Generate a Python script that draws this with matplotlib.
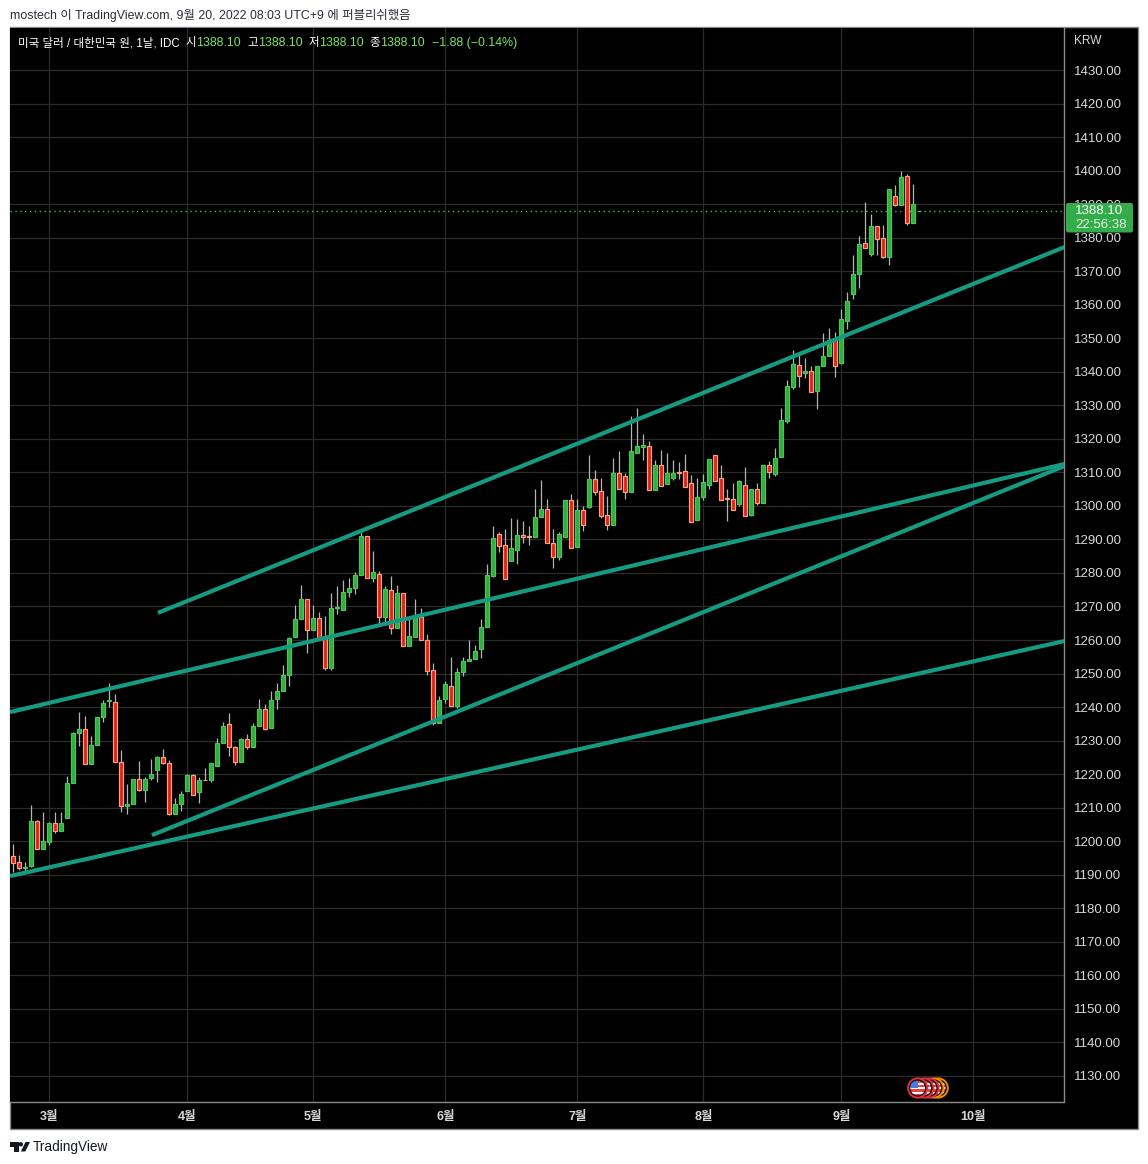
import matplotlib
matplotlib.use("Agg")
import matplotlib.pyplot as plt
from matplotlib.patches import Rectangle, Circle, FancyBboxPatch, Polygon

plt.rcParams['font.family'] = ['Liberation Sans', 'Noto Sans CJK KR', 'DejaVu Sans']

opens = [1195.6,1193.8,1192.0,1192.5,1206.0,1197.7,1199.7,1205.4,1203.0,1206.8,
 1217.4,1232.2,1233.5,1222.9,1228.6,1236.9,1241.9,1241.5,1223.6,1210.4,
 1211.0,1218.6,1215.2,1218.7,1221.1,1225.1,1223.3,1208.0,1211.0,1214.9,
 1219.7,1214.6,1218.3,1218.2,1222.5,1229.3,1235.0,1228.1,1223.5,1230.5,
 1228.1,1234.4,1239.4,1233.8,1242.4,1244.8,1249.5,1260.8,1266.2,1272.3,
 1262.9,1266.6,1260.9,1251.6,1269.5,1268.9,1274.3,1275.4,1279.3,1291.1,
 1278.4,1279.7,1266.8,1274.9,1263.5,1274.1,1258.2,1261.0,1266.9,1260.0,
 1251.1,1235.2,1242.3,1246.3,1240.2,1250.4,1253.7,1254.3,1257.3,1263.8,
 1279.2,1291.7,1288.4,1283.7,1286.8,1291.4,1290.9,1290.7,1296.6,1299.1,
 1288.8,1284.8,1290.8,1301.9,1287.8,1298.7,1299.8,1307.9,1304.3,1297.2,
 1294.4,1309.7,1308.8,1304.2,1315.9,1317.7,1317.8,1304.8,1312.1,1306.6,
 1308.4,1310.1,1310.3,1306.7,1295.9,1302.7,1306.3,1315.1,1308.2,1302.3,
 1302.2,1300.6,1306.1,1297.4,1304.9,1300.9,1312.1,1309.6,1314.7,1325.4,
 1335.6,1342.0,1339.6,1340.2,1334.4,1341.6,1344.8,1349.4,1342.5,1355.0,
 1363.3,1369.2,1378.3,1375.2,1383.6,1379.8,1374.3,1392.3,1389.8,1398.5,
 1384.4,1388.1]
closes = [1193.5,1192.0,1192.3,1206.0,1197.7,1200.1,1205.4,1203.0,1205.4,1217.4,
 1232.3,1233.5,1222.9,1228.7,1237.0,1241.2,1242.2,1223.6,1210.4,1211.1,
 1218.4,1215.2,1218.6,1220.1,1225.1,1223.2,1208.0,1211.1,1214.1,1219.7,
 1213.8,1218.3,1218.1,1223.3,1229.3,1234.4,1228.1,1223.5,1230.5,1228.0,
 1234.4,1239.4,1233.6,1242.1,1244.8,1249.7,1260.6,1266.3,1272.3,1262.9,
 1266.6,1260.3,1251.6,1269.6,1269.9,1274.4,1275.5,1279.4,1291.1,1278.4,
 1280.3,1266.8,1275.2,1263.5,1274.1,1258.2,1261.2,1266.9,1259.9,1250.9,
 1235.3,1242.1,1246.9,1240.3,1250.5,1253.8,1254.4,1256.8,1263.9,1279.4,
 1290.5,1288.0,1278.1,1287.5,1291.4,1290.8,1290.7,1296.7,1299.1,1288.9,
 1284.8,1291.6,1301.9,1287.3,1298.7,1294.4,1307.9,1304.2,1297.1,1294.4,
 1309.7,1305.1,1304.2,1316.3,1317.8,1318.1,1304.8,1312.1,1306.0,1309.7,
 1309.7,1309.9,1305.7,1295.3,1302.8,1307.0,1313.9,1307.5,1301.8,1302.1,
 1298.9,1307.3,1297.1,1304.9,1300.9,1312.1,1310.1,1314.2,1325.5,1335.7,
 1342.3,1338.6,1340.2,1333.9,1341.7,1344.6,1349.4,1341.6,1355.7,1361.0,
 1369.3,1378.0,1377.0,1383.6,1379.7,1374.3,1394.6,1389.8,1398.2,1384.4,
 1389.9,1388.1]
highs = [1199.3,1196.0,1193.9,1210.9,1206.4,1208.8,1205.8,1208.8,1208.8,1219.5,
 1232.6,1238.6,1237.4,1231.4,1237.1,1242.2,1247.3,1243.9,1227.3,1217.2,
 1218.6,1223.8,1219.2,1224.6,1225.4,1227.6,1224.2,1213.0,1215.1,1220.0,
 1220.0,1219.2,1221.8,1223.3,1230.7,1235.5,1238.2,1228.4,1230.8,1232.1,
 1235.2,1242.4,1240.9,1244.9,1247.3,1252.6,1260.9,1270.5,1276.5,1272.3,
 1270.3,1268.5,1267.1,1273.9,1276.2,1278.0,1278.6,1280.4,1292.2,1291.1,
 1286.4,1280.7,1276.2,1279.2,1276.5,1274.1,1266.3,1272.1,1269.4,1261.8,
 1253.0,1243.4,1247.8,1254.8,1251.7,1255.0,1260.1,1258.4,1266.3,1282.8,
 1294.0,1292.3,1293.2,1296.5,1296.2,1295.6,1294.1,1305.0,1307.7,1302.1,
 1293.1,1292.2,1301.9,1303.5,1302.2,1299.9,1315.2,1310.7,1308.3,1302.9,
 1314.2,1316.4,1309.7,1326.8,1329.2,1321.4,1319.4,1313.7,1316.7,1315.8,
 1313.7,1313.1,1315.4,1309.2,1308.3,1309.5,1313.9,1315.1,1312.2,1305.0,
 1306.8,1307.6,1311.6,1304.9,1306.7,1312.1,1313.4,1317.2,1329.2,1337.6,
 1346.5,1345.5,1344.1,1341.8,1341.7,1351.6,1353.1,1351.9,1358.7,1363.8,
 1374.8,1380.4,1390.6,1387.0,1383.6,1383.7,1394.6,1395.6,1399.8,1398.9,
 1395.9,1388.1]
lows = [1190.7,1191.3,1190.7,1192.4,1197.7,1197.7,1198.9,1202.4,1203.0,1206.8,
 1217.4,1228.5,1222.9,1222.9,1228.6,1235.6,1240.1,1223.6,1208.8,1208.0,
 1211.0,1214.9,1211.6,1218.2,1217.6,1222.9,1207.7,1208.0,1209.1,1214.9,
 1213.8,1211.3,1218.1,1217.6,1222.3,1229.3,1225.3,1222.6,1223.5,1227.6,
 1228.1,1234.4,1233.3,1233.8,1239.5,1244.8,1246.2,1260.8,1266.2,1256.1,
 1262.9,1260.3,1251.0,1251.0,1267.9,1268.9,1272.7,1273.6,1279.3,1278.4,
 1277.2,1264.9,1264.6,1261.7,1263.5,1258.2,1258.2,1261.0,1259.9,1249.7,
 1234.8,1235.2,1241.1,1240.3,1239.6,1249.2,1253.7,1254.3,1254.6,1263.8,
 1278.9,1286.2,1278.1,1283.5,1282.8,1289.0,1288.2,1290.7,1296.6,1288.9,
 1281.6,1283.8,1290.8,1287.3,1287.8,1292.5,1299.5,1303.2,1296.4,1292.8,
 1294.4,1305.1,1302.0,1304.2,1315.9,1313.7,1304.8,1304.8,1306.0,1306.6,
 1307.7,1308.0,1305.7,1295.3,1295.9,1301.7,1305.0,1307.5,1301.8,1295.6,
 1298.9,1300.0,1297.1,1297.0,1300.2,1300.9,1308.3,1309.0,1314.7,1324.8,
 1334.9,1335.5,1338.2,1333.9,1329.0,1341.6,1344.8,1338.5,1342.3,1352.8,
 1361.8,1365.0,1377.0,1374.5,1374.8,1373.9,1371.9,1389.4,1389.8,1383.8,
 1384.4,1388.1]

month_labels = ['3월','4월','5월','6월','7월','8월','9월','10월']
month_bars = [6,29,50,72,94,115,138,160]
price_ticks = list(range(1130,1440,10))

trend_starts = [(24.1,1268.1),(-0.55,1238.5),(23.1,1201.8),(-0.55,1189.6)]
trend_ends = [(175.2,1377.2),(175.2,1312.5),(175.2,1311.9),(175.2,1259.7)]

last_price = 1388.10

W,H = 1148,1164
GREEN='#32ad3e'; GREEN_E='#4fc45c'; RED='#e2231a'; RED_E='#f4a582'
WICK='#b4b4b4'; GRID='#2b2b2b'; TEAL='#169b83'; AXT='#d9d9d9'; SEP='#8a8a8e'
LG='#7be35f'

fig = plt.figure(figsize=(W/100,H/100),dpi=100,facecolor='white')
fig.add_artist(Rectangle((10/W,1-1129/H),1128/W,1102/H,transform=fig.transFigure,
                         facecolor='black',edgecolor=SEP,linewidth=1,zorder=-1))

ax = fig.add_axes([10/W,1-1101.5/H,1054/W,1074/H],facecolor='black')
ax.set_xlim(-0.555,175.1)
ax.set_ylim(1122.36,1442.68)
for s in ('left','top'):
    ax.spines[s].set_visible(False)
for s in ('right','bottom'):
    ax.spines[s].set_color(SEP); ax.spines[s].set_linewidth(1)
ax.yaxis.tick_right()
ax.set_yticks(price_ticks)
ax.set_yticklabels([f'{v:.2f}' for v in price_ticks])
ax.set_xticks(month_bars)
ax.set_xticklabels(month_labels,fontweight='bold')
ax.tick_params(axis='y',length=0,pad=7.2,labelsize=9.5,labelcolor=AXT)
ax.tick_params(axis='x',length=0,pad=6.5,labelsize=9,labelcolor=AXT)
ax.grid(True,color=GRID,linewidth=0.9,zorder=0)
ax.set_axisbelow(True)

ax.axhline(last_price,color='#2ecc52',linewidth=1.0,linestyle=(0,(1,2.5)),zorder=1)

xs = list(range(len(opens)))
cols = [GREEN if c>=o else RED for o,c in zip(opens,closes)]
edges = [GREEN_E if c>=o else RED_E for o,c in zip(opens,closes)]
ax.vlines(xs,lows,highs,color=WICK,linewidth=0.9,zorder=2)
ax.bar(xs,[abs(c-o) for o,c in zip(opens,closes)],bottom=[min(o,c) for o,c in zip(opens,closes)],
       width=0.68,color=cols,edgecolor=edges,linewidth=0.85,zorder=3)

for a,b in zip(trend_starts,trend_ends):
    ax.plot([a[0],b[0]],[a[1],b[1]],color=TEAL,linewidth=3.0,solid_capstyle='butt',zorder=4)

# overlay in pixel coordinates for page chrome
ov = fig.add_axes([0,0,1,1],facecolor='none')
ov.set_xlim(0,W); ov.set_ylim(H,0); ov.axis('off')

ov.text(10,15.5,'mostech 이 TradingView.com, 9월 20, 2022 08:03 UTC+9 에 퍼블리쉬했음',
        fontsize=8.95,color='#2a2e39',va='center',ha='left')
ov.text(33,1147.5,'TradingView',fontsize=9.8,color='#131722',va='center',ha='left')

ov.add_patch(Polygon([(10,1142),(18.5,1142),(18.5,1151.5),(14,1151.5),(14,1146.5),(10,1146.5)],
                     closed=True,color='#131722',lw=0))
ov.add_patch(Circle((20.8,1144.3),2.2,color='#131722',lw=0))
ov.add_patch(Polygon([(25.5,1142),(30,1142),(25.3,1151.5),(20.8,1151.5)],closed=True,color='#131722',lw=0))

ov.text(18,43,'미국 달러 / 대한민국 원, 1날, IDC',fontsize=8.3,color='white',va='center',ha='left')
for x,t in [(185.5,'시'),(247,'고'),(308.5,'저'),(369,'종')]:
    ov.text(x,43,t,fontsize=8.3,color='white',va='center',ha='left')
for x in (196,258,319,380):
    ov.text(x,43,f'{last_price:.2f}',fontsize=8.9,color=LG,va='center',ha='left')
ov.text(432,43,'−1.88 (−0.14%)',fontsize=8.9,color=LG,va='center',ha='left')
ov.text(1074,40.5,'KRW',fontsize=8.6,color=AXT,va='center',ha='left')

ov.add_patch(FancyBboxPatch((1066,203),67,29.5,boxstyle='round,pad=0,rounding_size=2',
                            facecolor='#33ad4a',edgecolor='none',zorder=5))
ov.text(1075,211,f'{last_price:.2f}',fontsize=9.5,color='white',va='center',ha='left',zorder=6)
ov.text(1075,225.5,'22:56:38',fontsize=9.5,color='#e6f5e6',va='center',ha='left',zorder=6)

def flag(cx,cy,ring,z):
    R=9.6
    ov.add_patch(Circle((cx,cy),R,facecolor='black',edgecolor=ring,linewidth=1.4,zorder=z))
    clip=Circle((cx,cy),R-2.2,transform=ov.transData)
    for k in range(7):
        r=Rectangle((cx-R,cy-R+2.2+k*2.2),2*R,2.2,facecolor='#f03e3e' if k%2==0 else 'white',zorder=z+0.1)
        ov.add_patch(r); r.set_clip_path(clip)
    b=Rectangle((cx-R,cy-R),R,R,facecolor='#3f7fe0',zorder=z+0.2)
    ov.add_patch(b); b.set_clip_path(clip)

for z,(cx,ring) in enumerate([(938.2,'#f08c00'),(933.8,'#f08c00'),(929,'#e0313f'),(923.8,'#e0313f'),(917.7,'#e0313f')]):
    flag(cx,1088,ring,5+z)

fig.savefig('out.png',dpi=100,facecolor='white')
